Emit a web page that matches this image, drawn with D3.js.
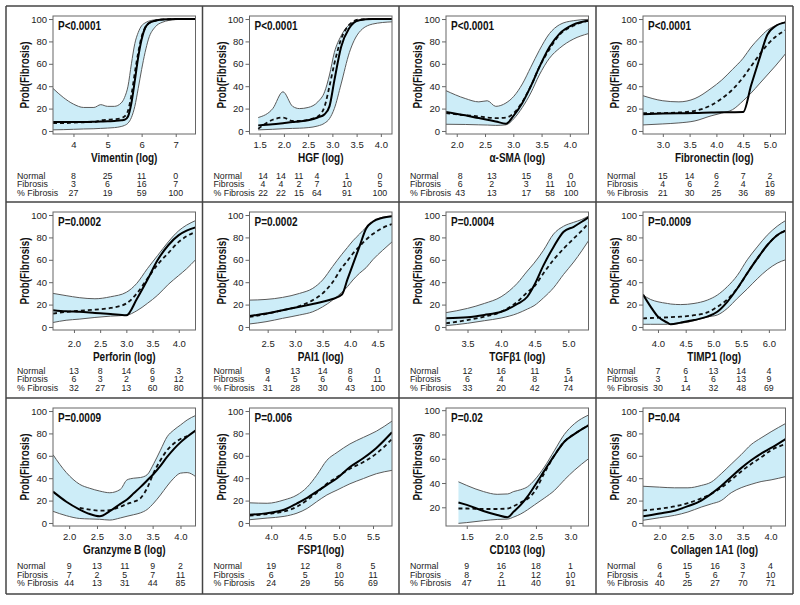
<!DOCTYPE html>
<html><head><meta charset="utf-8">
<script src="https://cdn.jsdelivr.net/npm/d3@7/dist/d3.min.js"></script>
<style>
body{margin:0;background:#fff}
svg text{font-family:"Liberation Sans",Arial,sans-serif;fill:#222}
.bold{font-weight:bold;fill:#111}
</style></head><body>
<svg id="c" width="800" height="605"></svg>
<script>
// ---------------- DATA ----------------
const xTitles = ["Vimentin (log)","HGF (log)","\u03b1-SMA (log)","Fibronectin (log)",
  "Perforin (log)","PAI1 (log)","TGF\u03b21 (log)","TIMP1 (log)",
  "Granzyme B (log)","FSP1(log)","CD103 (log)","Collagen 1A1 (log)"];
const pValues = ["P<0.0001","P<0.0001","P<0.0001","P<0.0001","P=0.0002","P=0.0002","P=0.0004","P=0.0009","P=0.0009","P=0.006","P=0.02","P=0.04"];
const xDomains = [[3.4,7.58],[1.29,4.23],[1.81,4.33],[2.63,5.29],[1.6,4.32],[2.17,4.76],[3.18,5.30],[3.73,6.30],[1.71,4.27],[3.68,5.78],[1.2,3.26],[1.7,4.27]];
const xTickValues = [[4,5,6,7],[1.5,2,2.5,3,3.5,4],[2,2.5,3,3.5,4],[3,3.5,4,4.5,5],[2,2.5,3,3.5,4],[2.5,3,3.5,4,4.5],[3.5,4,4.5,5],[4,4.5,5,5.5,6],[2,2.5,3,3.5,4],[4,4.5,5,5.5],[1.5,2,2.5,3],[2,2.5,3,3.5,4]];
const xTickFormats = ["d",".1f",".1f",".1f",".1f",".1f",".1f",".1f",".1f",".1f",".1f",".1f"];
const yDomains = [[-2.7,102.7],[-2.7,102.7],[-2.7,102.7],[-2.7,102.7],[-2.7,102.7],[-2.7,102.7],[-2.7,102.7],[-2.7,102.7],[-2.7,102.7],[-2.7,102.7],[4.6,101.8],[-2.7,102.7]];
const yTickValues = [[0,20,40,60,80,100],[0,20,40,60,80,100],[0,20,40,60,80,100],[0,20,40,60,80,100],[0,20,40,60,80,100],[0,20,40,60,80,100],[0,20,40,60,80,100],[0,20,40,60,80,100],[0,20,40,60,80,100],[0,20,40,60,80,100],[20,40,60,80,100],[0,20,40,60,80,100]];

// curves: x grid, upper CI, lower CI, model (solid), observed smooth (dashed)
const vimX = [3.4,3.7,4.0,4.3,4.6,4.8,5.0,5.2,5.4,5.5,5.6,5.7,5.8,5.9,6.0,6.1,6.2,6.4,6.6,7.0,7.58];
const vimUpper = [38,30,24,21,21,23.5,22,22,25,30,40,60,78,88,94,96.5,98,99.3,99.7,100,100];
const vimLower = [1,1.2,1.5,1.8,2,2.3,2.6,3,4,5,7,12,22,38,55,70,82,93,97,99.5,100];
const vimSolid = [8,8,8,8,8.2,8.4,8.6,9,9.5,10,13,25,45,66,82,92,96,98.5,99.5,100,100];
const vimDashed = [7,7,7.5,7.8,8,9.5,10,10.5,11.5,13,18,32,52,70,84,92,96,98.5,99.5,100,100];

const hgfX = [1.47,1.77,1.98,2.18,2.32,2.5,2.7,2.84,2.94,3.04,3.18,3.35,3.55,3.83,4.23];
const hgfUpper = [12,20,35,22,20,21,26,35,50,70,85,95,98.5,100,100];
const hgfLower = [1,1.5,2,2.3,2.5,3,4.5,7,11,20,42,70,88,95.5,97.5];
const hgfSolid = [5,6,7,8,8.5,9.5,12,15,22,45,75,92,99,100,100];
const hgfDashed = [2,10,12,9,9,10,13,22,40,60,82,95,99.5,100,100];

const smaX = [1.81,2.15,2.39,2.54,2.69,2.87,3.01,3.16,3.31,3.46,3.64,3.82,4.06,4.33];
const smaUpper = [36,29,26,27,22,25,31,42,57,72,87,95,98.5,99.7];
const smaLower = [6,5.8,5.5,5.3,5,5.5,11,21,34,50,65,74,82,87];
const smaSolid = [17,14,11.5,10,8.5,6.5,14,25,40,57,75,87,95,98.5];
const smaDashed = [16,14,13,12,11.5,12,16,26,40,57,73,86,94,98.5];

const fibX = [2.63,3.0,3.3,3.6,3.9,4.1,4.3,4.5,4.65,4.8,4.95,5.1,5.29];
const fibUpper = [31.5,27,26,29,38,45.5,55,65,75,83,90,94,97.5];
const fibLower = [5.4,6.3,7.2,9,13.5,16,19,27,34,42,50,58,69];
const fibSolid = [15,15.5,15.8,16,16.5,16.7,16.8,17,41,64,86,93.5,97];
const fibDashed = [16,16,16.5,18,23,29,37,48,58,68,77,84,90];

const perX = [1.6,1.85,2.1,2.4,2.7,3.0,3.2,3.4,3.6,3.8,4.0,4.15,4.32];
const perUpper = [30,28,26.2,25.2,27,31,39,52,64,76,86,91,95];
const perLower = [4,6,7,8.5,9.7,10.5,14.5,21,28.5,38,46,52,60];
const perSolid = [15,14,13.5,12.5,11.5,10.4,25,42,60,73,82,86,89];
const perDashed = [12,13.5,14.5,15.5,17,21,30,43,56,66,76,81,85];

const paiX = [2.17,2.47,2.77,3.08,3.32,3.5,3.68,3.85,3.95,4.05,4.17,4.29,4.41,4.59,4.76];
const paiUpper = [24,24.6,26.4,30,34.5,42,54,65,71,77,83,89,94,98,99];
const paiLower = [2.7,4.7,7.7,10.7,13.6,18,24,31,36,42,48,53,60,68.5,76];
const paiSolid = [9.8,12,15,18,20.5,22.5,25,29,42.5,56,72,88,94,97.5,99];
const paiDashed = [9,11.6,15,18.7,24,30,40,53,59,65.6,72,78,83,88.5,92];

const tgfX = [3.18,3.5,3.75,4.0,4.24,4.39,4.49,4.63,4.78,4.93,5.08,5.2,5.3];
const tgfUpper = [12.8,16.6,21,27,39,50,57,68.5,83,90,93.5,96,99];
const tgfLower = [1.2,3.3,5.6,8,12,16,19,26,35,47,58,68,77];
const tgfSolid = [7.7,8.6,10.7,13.6,20.5,27,37,55,71.5,85,89.5,94,98];
const tgfDashed = [3.3,6.2,9.2,13.6,22.5,31,36,48,60,70,79,86,93];

const timX = [3.73,3.87,4.0,4.17,4.23,4.41,4.65,4.89,5.07,5.25,5.43,5.61,5.79,5.97,6.15,6.3];
const timUpper = [28.5,24.5,22.5,21,20.5,20,21,24,28.5,36,46,60,71.5,82,90,95];
const timLower = [2.4,2.4,2.4,2.4,2.6,3.3,5.6,9,10.7,16.6,25.5,34,43,51,57,60];
const timSolid = [29,18,9.2,3.9,2.4,3.9,6.2,9.2,13.6,22.5,34.4,48,61,73,82,86];
const timDashed = [7.7,8,8.3,8.6,8.8,9.2,10.5,13,18,24.6,34.4,48,61,73,82,86];

const grzX = [1.71,1.95,2.19,2.37,2.55,2.73,2.92,3.04,3.16,3.28,3.4,3.52,3.64,3.76,3.88,4.0,4.12,4.27];
const grzUpper = [61,45,34.5,31,28.5,27,30,38.5,40,40.6,43,53,65,77,83,87.5,92,96];
const grzLower = [10.4,6.5,4,3.6,3.3,2.6,4.5,6,7.4,9,12,17.8,25,33,40,44.5,45,41.5];
const grzSolid = [28,19,12,8,6,10.5,17,21,26.5,32,38,44,51,59,66,72,77,82.5];
const grzDashed = [null,null,13.5,12,11,11.5,14.5,17,19,22,31,45,56,65,71,75,77.5,null];

const fspX = [3.68,3.94,4.19,4.38,4.53,4.67,4.82,4.97,5.16,5.36,5.55,5.78];
const fspUpper = [18,17.6,20.6,25,32,42.6,56,63,70.6,76.5,82,91];
const fspLower = [2.9,4.4,5.9,8.8,13,19,25,29.4,35,39.7,44,47];
const fspSolid = [7.4,8.8,11.8,17.5,22.5,28,34,40,50,58,67,81];
const fspDashed = [6.5,8,10.3,14.5,20.5,27,35,41,48.5,54.5,62,75];

const cdX = [1.38,1.5,1.74,1.94,2.09,2.18,2.28,2.38,2.48,2.62,2.77,2.91,3.06,3.26];
const cdUpper = [41,38,33,30.7,31,33,34.5,37,42.5,53,67,80,89,96];
const cdLower = [6.8,7.4,9,10,10.3,12,14.5,18,22,27.5,34,42.5,50.7,60];
const cdSolid = [24,22,17,13.7,11.8,16.5,22,29,37.5,50,63,74,80.5,87.5];
const cdDashed = [19,19,18.6,18.6,19,21,24,27,33,48,63,74,80.5,87.5];

const colX = [1.7,2.0,2.27,2.51,2.75,2.93,3.11,3.29,3.47,3.65,3.83,4.01,4.27];
const colUpper = [32.8,32,31.4,31.4,33.5,36.5,44,52.5,61,70,76,81.5,88.8];
const colLower = [2.4,4.7,6.8,9.8,14.2,17,20,27,31.5,34.5,37,38.5,41.4];
const colSolid = [6,8.5,11,15,20,26,33,41,49,56,62,67,75];
const colDashed = [11.2,12.7,14.8,17.8,22,26,31.4,38.5,46,52.7,58.6,65,70.4];

const curveXs = [vimX,hgfX,smaX,fibX,perX,paiX,tgfX,timX,grzX,fspX,cdX,colX];
const curveUppers = [vimUpper,hgfUpper,smaUpper,fibUpper,perUpper,paiUpper,tgfUpper,timUpper,grzUpper,fspUpper,cdUpper,colUpper];
const curveLowers = [vimLower,hgfLower,smaLower,fibLower,perLower,paiLower,tgfLower,timLower,grzLower,fspLower,cdLower,colLower];
const curveSolids = [vimSolid,hgfSolid,smaSolid,fibSolid,perSolid,paiSolid,tgfSolid,timSolid,grzSolid,fspSolid,cdSolid,colSolid];
const curveDashes = [vimDashed,hgfDashed,smaDashed,fibDashed,perDashed,paiDashed,tgfDashed,timDashed,grzDashed,fspDashed,cdDashed,colDashed];

// tables
const tableRowLabels = ["Normal","Fibrosis","% Fibrosis"];
const tableNormal = [[8,25,11,0],[14,14,11,4,1,0],[8,13,15,8,0],[15,14,6,7,2],[13,8,14,6,3],[9,13,14,8,0],[12,16,11,5],[7,6,13,14,4],[9,13,11,9,2],[19,12,8,5],[9,16,18,1],[6,15,16,3,4]];
const tableFibrosis = [[3,6,16,7],[4,4,2,7,10,5],[6,2,3,11,10],[4,6,2,4,16],[6,3,2,9,12],[4,5,6,6,11],[6,4,8,14],[3,1,6,13,9],[7,2,5,7,11],[6,5,10,11],[8,2,12,10],[4,5,6,7,10]];
const tablePct = [[27,19,59,100],[22,22,15,64,91,100],[43,13,17,58,100],[21,30,25,36,89],[32,27,13,60,80],[31,28,30,43,100],[33,20,42,74],[30,14,32,48,69],[44,13,31,44,85],[24,29,56,69],[47,11,40,91],[40,25,27,70,71]];
// table column anchors (on the panel's x axis); null = use the axis ticks
const tableColumnAt = [null,[1.57,1.94,2.31,2.68,3.30,3.98],[2.06,2.62,3.23,3.65,4.02],null,null,null,null,null,null,null,null,null];

// ---------------- LAYOUT ----------------
const colLefts = [6, 202.5, 399, 596], colW = 197;
const rowTops = [6, 202, 398], rowH = 196;
const rowTickShift = [0, 3, 0];
const plotL = 47, plotR = 189.5, plotT = 10, plotB = 128;
const bandFill = "#cdedf8", bandLine = "#5a5a5a";
const squeeze = 0.8;

const svg = d3.select("#c");

for (let i = 0; i < 12; i++) {
  const r = Math.floor(i / 4), c = i % 4;
  const px = colLefts[c], py = rowTops[r];
  const g = svg.append("g");
  const x = d3.scaleLinear().domain(xDomains[i]).range([px + plotL, px + plotR]);
  const y = d3.scaleLinear().domain(yDomains[i]).range([py + plotB, py + plotT]);

  const clipId = "clip" + i;
  g.append("clipPath").attr("id", clipId).append("rect")
    .attr("x", px + plotL).attr("y", py + plotT).attr("width", plotR - plotL).attr("height", plotB - plotT);

  const xs = curveXs[i];
  const pts = xs.map((v, k) => ({x: v, u: curveUppers[i][k], l: curveLowers[i][k], s: curveSolids[i][k], d: curveDashes[i][k]}));
  const cg = g.append("g").attr("clip-path", `url(#${clipId})`);

  cg.append("path").datum(pts)
    .attr("d", d3.area().curve(d3.curveMonotoneX).x(d => x(d.x)).y0(d => y(d.l)).y1(d => y(d.u)))
    .attr("fill", bandFill).attr("stroke", "none");
  ["u", "l"].forEach(key => {
    cg.append("path").datum(pts)
      .attr("d", d3.line().curve(d3.curveMonotoneX).x(d => x(d.x)).y(d => y(d[key])))
      .attr("fill", "none").attr("stroke", bandLine).attr("stroke-width", 1);
  });
  cg.append("path").datum(pts)
    .attr("d", d3.line().curve(d3.curveMonotoneX).defined(d => d.d != null).x(d => x(d.x)).y(d => y(d.d)))
    .attr("fill", "none").attr("stroke", "#111").attr("stroke-width", 1.8).attr("stroke-dasharray", "4,3");
  cg.append("path").datum(pts)
    .attr("d", d3.line().curve(d3.curveMonotoneX).x(d => x(d.x)).y(d => y(d.s)))
    .attr("fill", "none").attr("stroke", "#000").attr("stroke-width", 2);

  // frame
  g.append("rect").attr("x", px + plotL).attr("y", py + plotT)
    .attr("width", plotR - plotL).attr("height", plotB - plotT)
    .attr("fill", "none").attr("stroke", "#666").attr("stroke-width", 1);

  // y axis
  const ya = g.append("g").attr("transform", `translate(${px + plotL},0)`)
    .call(d3.axisLeft(y).tickValues(yTickValues[i]).tickSize(4).tickPadding(2));
  ya.select(".domain").remove();
  ya.selectAll("line").attr("stroke", "#666");
  ya.selectAll("text").style("font-size", "9.5px").attr("fill", "#333");

  // x axis
  const xa = g.append("g").attr("transform", `translate(0,${py + plotB})`)
    .call(d3.axisBottom(x).tickValues(xTickValues[i]).tickFormat(d3.format(xTickFormats[i])).tickSize(3).tickPadding(4 + rowTickShift[r]));
  xa.select(".domain").remove();
  xa.selectAll("line").attr("stroke", "#666");
  xa.selectAll("text").style("font-size", "9.5px").attr("fill", "#333");

  // titles (condensed bold)
  g.append("text").attr("class", "bold")
    .attr("transform", `translate(${(x.range()[0] + x.range()[1]) / 2},${py + 156 + rowTickShift[r]}) scale(${squeeze},1)`)
    .attr("text-anchor", "middle").style("font-size", "12.5px").text(xTitles[i]);
  g.append("text").attr("class", "bold")
    .attr("transform", `translate(${px + plotL - 28},${py + (plotT + plotB) / 2}) rotate(-90) scale(0.82,1)`)
    .attr("text-anchor", "middle").attr("dominant-baseline", "central")
    .style("font-size", "12px").text("Prob(Fibrosis)");
  g.append("text").attr("class", "bold")
    .attr("transform", `translate(${px + plotL + 5},${py + 24}) scale(${squeeze},1)`)
    .style("font-size", "12.5px").text(pValues[i]);

  // table
  const rows = [tableNormal[i], tableFibrosis[i], tablePct[i]];
  const cols = tableColumnAt[i] || xTickValues[i];
  const rowYs = [172.5, 181, 189.5];
  rows.forEach((vals, k) => {
    g.append("text").attr("x", px + 11).attr("y", py + rowYs[k] - (r === 1 ? 1 : 0) - (r === 2 ? 1.5 : 0))
      .style("font-size", "8.8px").attr("fill", "#222").text(tableRowLabels[k]);
    g.selectAll(null).data(vals).enter().append("text")
      .attr("x", (d, j) => x(cols[j])).attr("y", py + rowYs[k] - (r === 1 ? 1 : 0) - (r === 2 ? 1.5 : 0))
      .attr("text-anchor", "middle").style("font-size", "8.8px").attr("fill", "#222")
      .text(d => d);
  });
}

// panel grid borders
const gx = [colLefts[0], colLefts[1], colLefts[2], colLefts[3], colLefts[3] + colW];
const gy = [rowTops[0], rowTops[1], rowTops[2], rowTops[2] + rowH];
gx.forEach(v => svg.append("line").attr("x1", v).attr("x2", v).attr("y1", gy[0]).attr("y2", gy[3]).attr("stroke", "#444").attr("stroke-width", 1.5));
gy.forEach(v => svg.append("line").attr("x1", gx[0]).attr("x2", gx[4]).attr("y1", v).attr("y2", v).attr("stroke", "#444").attr("stroke-width", 1.5));
</script>
</body></html>
